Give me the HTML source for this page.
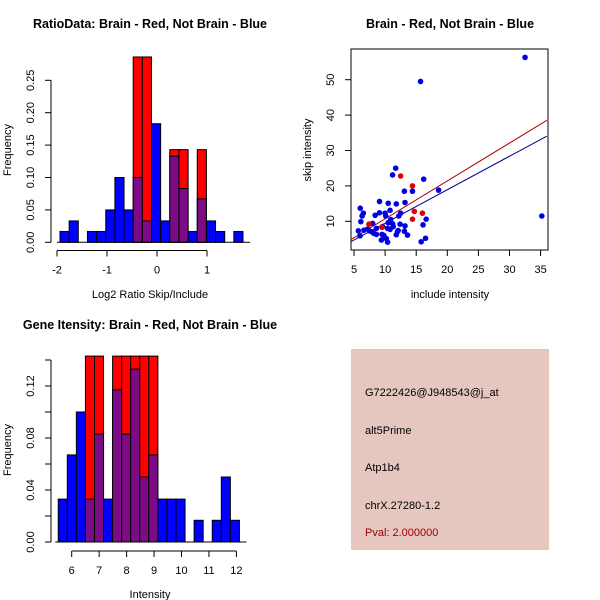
<!DOCTYPE html>
<html><head><meta charset="utf-8"><style>
body{margin:0;background:#fff}
svg{display:block;font-family:"Liberation Sans",sans-serif}
</style></head><body>
<svg id="s" width="600" height="600" xmlns="http://www.w3.org/2000/svg">
<rect width="600" height="600" fill="#fff"/>
<text x="150" y="28" font-size="12.5" font-weight="bold" text-anchor="middle">RatioData: Brain - Red, Not Brain - Blue</text>
<text x="450" y="28" font-size="12.5" font-weight="bold" text-anchor="middle">Brain - Red, Not Brain - Blue</text>
<text x="150" y="329" font-size="12.5" font-weight="bold" text-anchor="middle">Gene Itensity: Brain - Red, Not Brain - Blue</text>
<text x="150" y="298" font-size="11" text-anchor="middle">Log2 Ratio Skip/Include</text>
<text transform="translate(11,150) rotate(-90)" font-size="11" text-anchor="middle">Frequency</text>
<text x="150" y="598" font-size="11" text-anchor="middle">Intensity</text>
<text transform="translate(11,450) rotate(-90)" font-size="11" text-anchor="middle">Frequency</text>
<text x="450" y="298" font-size="11" text-anchor="middle">include intensity</text>
<text transform="translate(311,150) rotate(-90)" font-size="11" text-anchor="middle">skip intensity</text>
<g id="h1"></g><g id="h2"></g><g id="sc"></g>
<g>
<rect x="351" y="349" width="198" height="201" fill="#e5c7c0"/>
<text x="365" y="396" font-size="11">G7222426@J948543@j_at</text>
<text x="365" y="434" font-size="11">alt5Prime</text>
<text x="365" y="471" font-size="11">Atp1b4</text>
<text x="365" y="509" font-size="11">chrX.27280-1.2</text>
<text x="365" y="536" font-size="11" fill="#a00000">Pval: 2.000000</text>
</g>
</svg>
<script>
// Ratio histogram data
const ratioStart=-1.94, ratioWidth=0.183;
const ratioBlue=[0.0167,0.033,0,0.0167,0.0167,0.05,0.1,0.05,0.1,0.033,0.183,0.033,0.133,0.083,0.0167,0.067,0.033,0.0167,0,0.0167];
const ratioRed=[0,0,0,0,0,0,0,0,0.286,0.286,0,0,0.143,0.143,0,0.143,0,0,0,0];
const ratioXTicks=[-2,-1,0,1];
const ratioYTicks=[0,0.05,0.10,0.15,0.20,0.25];
const ratioYLabels=["0.00","0.05","0.10","0.15","0.20","0.25"];
// Intensity histogram data
const intStart=5.51, intWidth=0.33;
const intBlue=[0.033,0.067,0.1,0.033,0.083,0.033,0.117,0.083,0.133,0.05,0.067,0.033,0.033,0.033,0,0.0167,0,0.0167,0.05,0.0167];
const intRed=[0,0,0,0.143,0.143,0,0.143,0.143,0.143,0.143,0.143,0,0,0,0,0,0,0,0,0];
const intXTicks=[6,7,8,9,10,11,12];
const intYTicks=[0,0.02,0.04,0.06,0.08,0.10,0.12,0.14];
const intYLabels=["0.00","","0.04","","0.08","","0.12",""];
// Scatter data
const blueX=[5.7,6.0,6.1,6.3,6.5,6.6,5.96,7.5,8.0,8.4,9.1,9.1,8.2,8.6,9.4,9.5,10.0,10.1,10.2,10.4,10.5,10.5,10.8,10.8,11.2,11.2,11.7,11.8,11.8,12.0,12.2,12.5,12.4,13.1,13.2,13.2,13.1,13.6,14.4,15.7,15.8,16.2,16.1,16.6,16.5,18.6,32.5,35.2,7.9,8.6,9.6,10.4,11.3,9.8,7.2,12.1,10.9];
const blueY=[7.3,13.7,9.9,11.5,12.3,7.5,5.9,7.3,9.4,11.7,15.6,12.4,6.6,6.3,4.7,6.3,12.3,11.5,5.1,4.1,15.1,9.6,13.1,7.7,23.1,9.3,25,14.9,6.2,7.1,11.5,12.3,9.2,18.5,15.3,8.7,7.2,6.1,18.5,49.5,4.2,21.9,9.0,10.6,5.2,18.8,56.3,11.5,7.0,8.0,8.5,8.0,8.5,6.0,7.8,7.4,10.5];
const redX=[7.4,9.5,12.5,14.4,14.4,14.7,16.0];
const redY=[9.2,8.3,22.8,20,10.6,12.8,12.3];
const redLine=[0,1.07], blueLine=[0,0.946];
const scXTicks=[5,10,15,20,25,30,35];
const scYTicks=[10,20,30,40,50];

const NS="http://www.w3.org/2000/svg";
function mk(p,t,a){const e=document.createElementNS(NS,t);for(const k in a)e.setAttribute(k,a[k]);p.appendChild(e);return e;}

function hist(g,start,w,blue,red,sx,sy,y0,xt,yt,yl,axX,axY,pref){
  for(let i=0;i<blue.length;i++){
    const x0=sx(start+i*w),x1=sx(start+(i+1)*w);
    const b=blue[i],r=red[i];
    if(r>0){const e=mk(g,'rect',{x:x0,y:sy(r),width:x1-x0,height:sy(0)-sy(r),fill:'#ff0000',stroke:'#000','stroke-width':1});
      
      }
    if(b>0){
      const lo=Math.min(b,r);
      if(lo>0){const e=mk(g,'rect',{x:x0,y:sy(lo),width:x1-x0,height:sy(0)-sy(lo),fill:'#7d0b86',stroke:'#000','stroke-width':1});
        
        }
      if(b>r){const e=mk(g,'rect',{x:x0,y:sy(b),width:x1-x0,height:sy(r)-sy(b),fill:'#0000ff',stroke:'#000','stroke-width':1});
        
        }
    }
  }
  mk(g,'line',{x1:sx(start)-3,x2:sx(start+blue.length*w)+7,y1:y0,y2:y0,stroke:'#000'});
  mk(g,'line',{x1:axY,x2:axY,y1:sy(yt[0]),y2:sy(yt[yt.length-1]),stroke:'#000'});
  yt.forEach((v,i)=>{mk(g,'line',{x1:axY-6,x2:axY,y1:sy(v),y2:sy(v),stroke:'#000'});
    if(yl[i]){const t=mk(g,'text',{transform:`translate(${axY-17},${sy(v)}) rotate(-90)`,'font-size':11,'text-anchor':'middle'});t.textContent=yl[i];
      
      }});
  mk(g,'line',{x1:sx(xt[0]),x2:sx(xt[xt.length-1]),y1:axX,y2:axX,stroke:'#000'});
  xt.forEach(v=>{mk(g,'line',{x1:sx(v),x2:sx(v),y1:axX,y2:axX+6,stroke:'#000'});
    const t=mk(g,'text',{x:sx(v),y:axX+23,'font-size':11,'text-anchor':'middle'});t.textContent=v;
    
    });
}
const g1=document.getElementById('h1');


hist(g1,ratioStart,ratioWidth,ratioBlue,ratioRed,v=>57+(v+2)*50,v=>242.3-v*648,242.3,ratioXTicks,ratioYTicks,ratioYLabels,250.5,51,'ratio');
const g2=document.getElementById('h2');


hist(g2,intStart,intWidth,intBlue,intRed,v=>71.7+(v-6)*27.45,v=>542-v*1300,542,intXTicks,intYTicks,intYLabels,551,51,'intensity');

const g3=document.getElementById('sc');


const sx=v=>354+(v-5)*6.22, sy=v=>221.3-(v-10)*3.54;
mk(g3,'rect',{x:351,y:49,width:197,height:201,fill:'none',stroke:'#000'});
mk(g3,'line',{x1:sx(5),x2:sx(35),y1:250,y2:250,stroke:'#000'});
scXTicks.forEach(v=>{mk(g3,'line',{x1:sx(v),x2:sx(v),y1:250,y2:256,stroke:'#000'});
  const t=mk(g3,'text',{x:sx(v),y:273,'font-size':11,'text-anchor':'middle'});t.textContent=v;
  
  });
scYTicks.forEach(v=>{mk(g3,'line',{x1:345,x2:351,y1:sy(v),y2:sy(v),stroke:'#000'});
  const t=mk(g3,'text',{transform:`translate(334,${sy(v)}) rotate(-90)`,'font-size':11,'text-anchor':'middle'});t.textContent=v;
  
  });
mk(g3,'line',{x1:sx(4.5),x2:sx(36),y1:sy(blueLine[0]+blueLine[1]*4.5),y2:sy(blueLine[0]+blueLine[1]*36),stroke:'#00008b'});
mk(g3,'line',{x1:sx(4.5),x2:sx(36),y1:sy(redLine[0]+redLine[1]*4.5),y2:sy(redLine[0]+redLine[1]*36),stroke:'#b00000'});
blueX.forEach((x,i)=>{const c=mk(g3,'circle',{cx:sx(x),cy:sy(blueY[i]),r:2.8,fill:'#0000e0'});
  
  });
redX.forEach((x,i)=>{const c=mk(g3,'circle',{cx:sx(x),cy:sy(redY[i]),r:2.8,fill:'#e00000'});
  
  });
</script>
</body></html>
